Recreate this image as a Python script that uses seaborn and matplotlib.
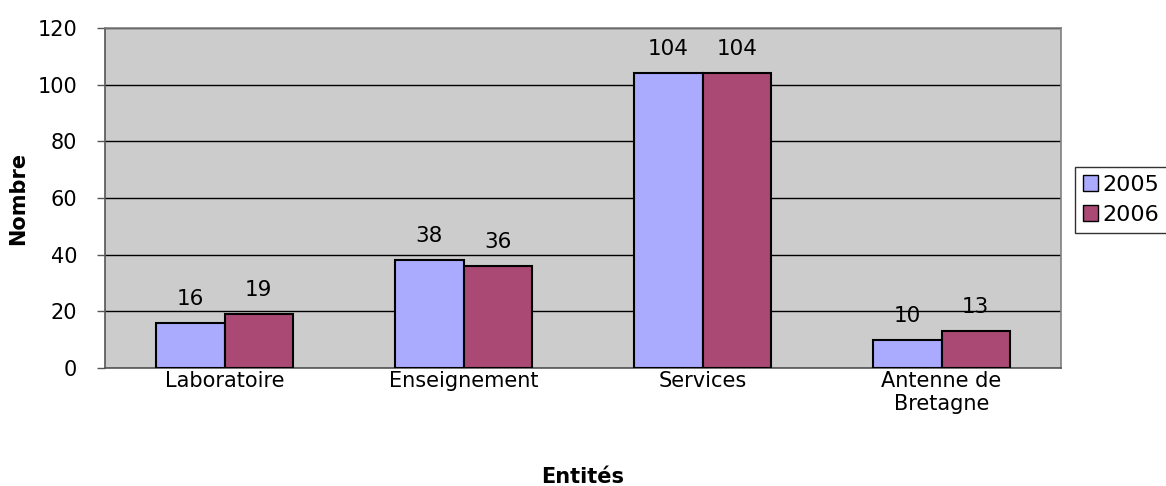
import pandas as pd
import matplotlib.pyplot as plt
import seaborn as sns
from matplotlib.patches import Patch

# --- Données ---
entites = ["Laboratoire", "Enseignement", "Services", "Antenne de\nBretagne"]
annees = ["2005", "2006"]
valeurs_2005 = [16, 38, 104, 10]
valeurs_2006 = [19, 36, 104, 13]
couleurs = ["#AAAAFF", "#A94974"]

df = pd.DataFrame({
    "Entité": entites * 2,
    "Année": [annees[0]] * 4 + [annees[1]] * 4,
    "Nombre": valeurs_2005 + valeurs_2006,
})

sns.set_style("white")
plt.rcParams["font.family"] = ["DejaVu Sans"]
plt.rcParams["text.color"] = "black"
plt.rcParams["xtick.color"] = "black"
plt.rcParams["ytick.color"] = "black"
plt.rcParams["axes.labelcolor"] = "black"

fig = plt.figure(figsize=(11.66, 4.86), dpi=100)
ax = fig.add_axes([105 / 1166, 1 - 368 / 486, 956 / 1166, 340 / 486])
ax.set_facecolor("#CCCCCC")

sns.barplot(data=df, x="Entité", y="Nombre", hue="Année", palette=couleurs,
            saturation=1, width=0.573, edgecolor="black", linewidth=1.5, ax=ax,
            legend=False, zorder=3)

# étiquettes de valeurs
for cont in ax.containers:
    ax.bar_label(cont, fontsize=15.5, padding=10, color="black")

ax.set_ylim(0, 120)
ax.set_xlim(-0.5, 3.5)
ax.set_yticks(range(0, 121, 20))
ax.yaxis.grid(True, color="black", linewidth=1, zorder=0)
ax.set_axisbelow(True)

# ticks de l'axe x entre les catégories
ax.set_xticks([-0.5, 0.5, 1.5, 2.5, 3.5], minor=True)
ax.tick_params(axis="x", which="major", length=0, labelsize=15, pad=2, labelcolor="black")
ax.tick_params(axis="x", which="minor", length=6, color="#555555", width=1)
ax.tick_params(axis="y", length=6, color="#555555", labelcolor="black", width=1,
               labelsize=15, left=True, pad=14)

for side in ["top", "right"]:
    ax.spines[side].set_color("#808080")
for side in ["left", "bottom"]:
    ax.spines[side].set_color("#555555")
for sp in ax.spines.values():
    sp.set_linewidth(1.2)

ax.set_xlabel("Entités", fontsize=15, fontweight="bold", labelpad=38)
ax.set_ylabel("Nombre", fontsize=15, fontweight="bold", labelpad=7)

handles = [Patch(facecolor=c, edgecolor="black", linewidth=1) for c in couleurs]
leg = fig.legend(handles, annees, loc="center left", bbox_to_anchor=(1075 / 1166, 1 - 200 / 486),
                 fontsize=16, frameon=True, fancybox=False, handlelength=0.7, handleheight=0.7,
                 handletextpad=0.2, borderpad=0.35, labelspacing=0.45, borderaxespad=0)
leg.get_frame().set_edgecolor("black")
leg.get_frame().set_linewidth(1)

fig.savefig("out.png", dpi=100)
